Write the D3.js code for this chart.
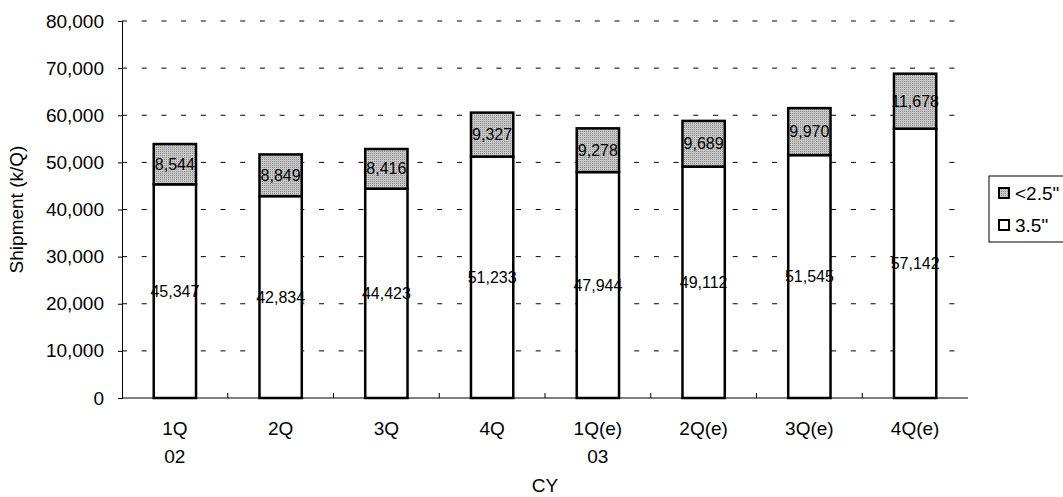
<!DOCTYPE html>
<html>
<head>
<meta charset="utf-8">
<script src="https://cdn.jsdelivr.net/npm/d3@7"></script>
<style>
  body { margin: 0; background: #fff; }
  svg text { font-family: "Liberation Sans", Arial, sans-serif; fill: #000; }
</style>
</head>
<body>
<div id="chart"></div>
<script>
const categories = ["1Q", "2Q", "3Q", "4Q", "1Q(e)", "2Q(e)", "3Q(e)", "4Q(e)"];
const years = ["02", "", "", "", "03", "", "", ""];
const big = [45347, 42834, 44423, 51233, 47944, 49112, 51545, 57142];
const small = [8544, 8849, 8416, 9327, 9278, 9689, 9970, 11678];
const yTicks = [0, 10000, 20000, 30000, 40000, 50000, 60000, 70000, 80000];
const seriesNames = ["<2.5\"", "3.5\""];

const W = 1063, H = 497;
const margin = { top: 21, right: 95, bottom: 99, left: 122 };
const width = W - margin.left - margin.right;
const height = H - margin.top - margin.bottom;

const svg = d3.select("#chart").append("svg")
    .attr("width", W).attr("height", H);

const defs = svg.append("defs");
const pat = defs.append("pattern")
    .attr("id", "dots").attr("width", 2).attr("height", 2)
    .attr("patternUnits", "userSpaceOnUse");
pat.append("rect").attr("width", 2).attr("height", 2).attr("fill", "#c8c8c8");
pat.append("rect").attr("width", 1).attr("height", 1).attr("fill", "#8a8a8a");

const g = svg.append("g").attr("transform", `translate(${margin.left},${margin.top})`);

const x = d3.scaleBand().domain(categories).range([0, width]).paddingInner(0.6).paddingOuter(0.3);
const band = d3.scaleBand().domain(categories).range([0, width]);
const y = d3.scaleLinear().domain([0, 80000]).range([height, 0]);

// gridlines
g.append("g").selectAll("line")
    .data(yTicks.filter(d => d > 0))
    .join("line")
    .attr("x1", 0).attr("x2", width)
    .attr("y1", d => y(d)).attr("y2", d => y(d))
    .attr("stroke", "#000").attr("stroke-width", 1)
    .attr("stroke-dasharray", "5,14.7");

// y axis
const yAxis = g.append("g")
    .call(d3.axisLeft(y).tickValues(yTicks).tickFormat(d3.format(",")).tickSize(4).tickPadding(14));
yAxis.select(".domain").attr("stroke", "#000").attr("stroke-width", 1);
yAxis.selectAll("text").attr("font-size", 19);

// bars
const data = categories.map((c, i) => ({ c, a: big[i], b: small[i] }));
const bars = g.append("g").selectAll("g").data(data).join("g");
bars.append("rect")
    .attr("x", d => x(d.c)).attr("width", x.bandwidth())
    .attr("y", d => y(d.a)).attr("height", d => y(0) - y(d.a))
    .attr("fill", "#fff").attr("stroke", "#000").attr("stroke-width", 2.5);
bars.append("rect")
    .attr("x", d => x(d.c)).attr("width", x.bandwidth())
    .attr("y", d => y(d.a + d.b)).attr("height", d => y(d.a) - y(d.a + d.b))
    .attr("fill", "url(#dots)").attr("stroke", "#000").attr("stroke-width", 2.5);

const fmt = d3.format(",");
bars.append("text")
    .attr("x", d => x(d.c) + x.bandwidth() / 2)
    .attr("y", d => y(d.a / 2))
    .attr("dy", "0.35em").attr("text-anchor", "middle").attr("font-size", 16)
    .text(d => fmt(d.a));
bars.append("text")
    .attr("x", d => x(d.c) + x.bandwidth() / 2)
    .attr("y", d => y(d.a + d.b / 2))
    .attr("dy", "0.35em").attr("text-anchor", "middle").attr("font-size", 16)
    .text(d => fmt(d.b));

// x axis
const xg = g.append("g").attr("transform", `translate(0,${height})`);
xg.append("line").attr("x1", 0).attr("x2", width).attr("stroke", "#000");
xg.selectAll("line.tick").data(categories.slice(1)).join("line")
    .attr("class", "tick")
    .attr("x1", d => band(d)).attr("x2", d => band(d))
    .attr("y1", 0).attr("y2", -5).attr("stroke", "#000");
xg.selectAll("text.cat").data(categories).join("text")
    .attr("class", "cat")
    .attr("x", d => band(d) + band.bandwidth() / 2)
    .attr("y", 37).attr("text-anchor", "middle").attr("font-size", 19)
    .text(d => d);
xg.selectAll("text.yr").data(categories).join("text")
    .attr("class", "yr")
    .attr("x", d => band(d) + band.bandwidth() / 2)
    .attr("y", 65).attr("text-anchor", "middle").attr("font-size", 19)
    .text((d, i) => years[i]);

svg.append("text")
    .attr("x", margin.left + width / 2).attr("y", 492)
    .attr("text-anchor", "middle").attr("font-size", 19).text("CY");

svg.append("text")
    .attr("transform", `translate(23,${margin.top + height / 2}) rotate(-90)`)
    .attr("text-anchor", "middle").attr("font-size", 19).text("Shipment (k/Q)");

// legend
const leg = svg.append("g").attr("transform", "translate(989,176)");
leg.append("rect").attr("width", 90).attr("height", 66)
    .attr("fill", "#fff").attr("stroke", "#000").attr("stroke-width", 1);
const items = leg.selectAll("g").data(seriesNames).join("g")
    .attr("transform", (d, i) => `translate(10,${17 + i * 32})`);
items.append("rect").attr("x", 0).attr("y", -5).attr("width", 10).attr("height", 10)
    .attr("fill", (d, i) => i === 0 ? "url(#dots)" : "#fff")
    .attr("stroke", "#000").attr("stroke-width", 2);
items.append("text").attr("x", 16).attr("dy", "0.35em").attr("font-size", 19).text(d => d);
</script>
</body>
</html>
